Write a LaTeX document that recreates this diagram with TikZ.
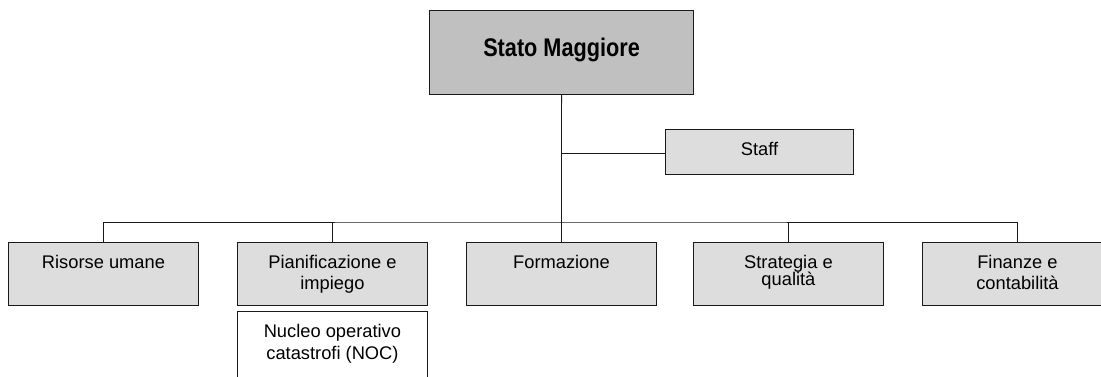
\documentclass[tikz,border=0pt]{standalone}
\usepackage{fontspec}
\setmainfont{Liberation Sans}
\newfontfamily\narrowbold{Liberation Sans}[FakeStretch=0.85]
\definecolor{maingray}{HTML}{C0C0C0}
\definecolor{subgray}{HTML}{DDDDDD}
\newcommand{\boxtext}[4]{\parbox[c][#2][t]{#1}{\centering\fontsize{18.3pt}{#3}\selectfont\vspace*{11pt}\rule{0pt}{15pt}#4}}
\tikzset{
  orgbox/.style={draw=black!90, line width=0.9pt, fill=subgray, inner sep=0pt, anchor=north west},
  conn/.style={draw=black!90, line width=0.9pt}
}
\begin{document}
\begin{tikzpicture}[x=1pt,y=-1pt]
\useasboundingbox (0,0) rectangle (1101,377);
% main box
\node[orgbox, fill=maingray, line width=1.1pt] (stato) at (429,10)
  {\parbox[c][84pt][t]{264pt}{\centering\narrowbold\bfseries\fontsize{25.5pt}{30pt}\selectfont\vspace*{27pt}\rule{0pt}{18pt}Stato Maggiore}};
% staff
\node[orgbox] (staff) at (665,129) {\boxtext{188pt}{45pt}{21pt}{Staff}};
% departments
\node[orgbox] (risorse) at (8,242) {\boxtext{190pt}{63pt}{21pt}{Risorse umane}};
\node[orgbox] (pian) at (237,242) {\boxtext{190pt}{63pt}{21pt}{Pianificazione e\\impiego}};
\node[orgbox] (form) at (466,242) {\boxtext{190pt}{63pt}{21pt}{Formazione}};
\node[orgbox] (strat) at (693,242) {\boxtext{190pt}{63pt}{17.5pt}{Strategia e\\qualità}};
\node[orgbox] (fin) at (922,242) {\boxtext{190pt}{63pt}{21pt}{Finanze e\\contabilità}};
\node[orgbox, fill=white] (noc) at (237,311) {\boxtext{190pt}{90pt}{22pt}{Nucleo operativo\\catastrofi (NOC)}};
% connectors
\coordinate (bus) at (561,222);
\coordinate (staffjoint) at (561,153);
\draw[conn] (stato.south) -- (form.north);
\draw[conn] (staffjoint) -- (staffjoint -| staff.west);
\draw[conn] (risorse.north) |- (bus) -| (fin.north);
\draw[conn] (pian.north) -- (pian.north |- bus);
\draw[conn] (strat.north) -- (strat.north |- bus);
\end{tikzpicture}
\end{document}
